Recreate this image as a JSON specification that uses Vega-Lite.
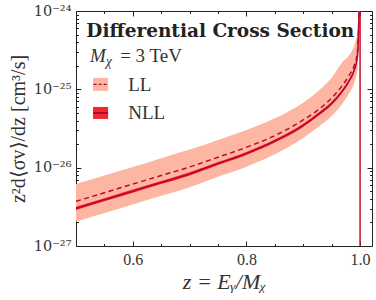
{
  "$schema": "https://vega.github.io/schema/vega-lite/v6.json",
  "width": 296,
  "height": 235,
  "autosize": {"type": "none"},
  "padding": {"left": 76, "top": 11, "right": 4, "bottom": 54},
  "config": {
    "view": {"stroke": "#222", "strokeWidth": 1},
    "font": "Liberation Serif",
    "axis": {"domain": false, "grid": false, "tickColor": "#222", "labelColor": "#333", "titleColor": "#333", "labelFont": "Liberation Serif", "titleFont": "Liberation Serif", "titleFontWeight": "normal", "labelFontSize": 16}
  },
  "data": {"values": [
    {"z": 0.5, "ll": 3.72e-27, "ll_lo": 2.04e-27, "ll_hi": 6.17e-27, "nll": 3.02e-27, "nll_lo": 2.88e-27, "nll_hi": 3.16e-27},
    {"z": 0.55, "ll": 4.79e-27, "ll_lo": 2.63e-27, "ll_hi": 7.94e-27, "nll": 3.89e-27, "nll_lo": 3.72e-27, "nll_hi": 4.07e-27},
    {"z": 0.6, "ll": 6.17e-27, "ll_lo": 3.39e-27, "ll_hi": 1.02e-26, "nll": 5.01e-27, "nll_lo": 4.79e-27, "nll_hi": 5.25e-27},
    {"z": 0.65, "ll": 7.94e-27, "ll_lo": 4.37e-27, "ll_hi": 1.32e-26, "nll": 6.46e-27, "nll_lo": 6.17e-27, "nll_hi": 6.76e-27},
    {"z": 0.7, "ll": 1.02e-26, "ll_lo": 5.62e-27, "ll_hi": 1.70e-26, "nll": 8.32e-27, "nll_lo": 7.94e-27, "nll_hi": 8.71e-27},
    {"z": 0.75, "ll": 1.36e-26, "ll_lo": 7.65e-27, "ll_hi": 2.26e-26, "nll": 1.13e-26, "nll_lo": 1.08e-26, "nll_hi": 1.18e-26},
    {"z": 0.8, "ll": 1.82e-26, "ll_lo": 1.03e-26, "ll_hi": 3.02e-26, "nll": 1.52e-26, "nll_lo": 1.45e-26, "nll_hi": 1.59e-26},
    {"z": 0.85, "ll": 2.57e-26, "ll_lo": 1.48e-26, "ll_hi": 4.27e-26, "nll": 2.19e-26, "nll_lo": 2.09e-26, "nll_hi": 2.29e-26},
    {"z": 0.9, "ll": 4.07e-26, "ll_lo": 2.40e-26, "ll_hi": 6.76e-26, "nll": 3.47e-26, "nll_lo": 3.31e-26, "nll_hi": 3.63e-26},
    {"z": 0.93, "ll": 5.75e-26, "ll_lo": 3.47e-26, "ll_hi": 1.00e-25, "nll": 5.01e-26, "nll_lo": 4.79e-26, "nll_hi": 5.25e-26},
    {"z": 0.95, "ll": 7.76e-26, "ll_lo": 4.57e-26, "ll_hi": 1.41e-25, "nll": 6.61e-26, "nll_lo": 6.31e-26, "nll_hi": 6.92e-26},
    {"z": 0.97, "ll": 1.15e-25, "ll_lo": 6.76e-26, "ll_hi": 2.29e-25, "nll": 9.77e-26, "nll_lo": 9.33e-26, "nll_hi": 1.023e-25},
    {"z": 0.98, "ll": 1.48e-25, "ll_lo": 8.71e-26, "ll_hi": 2.69e-25, "nll": 1.26e-25, "nll_lo": 1.20e-25, "nll_hi": 1.32e-25},
    {"z": 0.99, "ll": 2.04e-25, "ll_lo": 1.23e-25, "ll_hi": 3.72e-25, "nll": 1.78e-25, "nll_lo": 1.70e-25, "nll_hi": 1.86e-25},
    {"z": 0.995, "ll": 2.88e-25, "ll_lo": 1.74e-25, "ll_hi": 5.25e-25, "nll": 2.51e-25, "nll_lo": 2.40e-25, "nll_hi": 2.63e-25},
    {"z": 0.998, "ll": 8.91e-25, "ll_lo": 5.01e-25, "ll_hi": 1.58e-24, "nll": 7.59e-25, "nll_lo": 7.24e-25, "nll_hi": 7.94e-25},
    {"z": 0.9995, "ll": 3.16e-24, "ll_lo": 1.58e-24, "ll_hi": 5.01e-24, "nll": 2.51e-24, "nll_lo": 2.40e-24, "nll_hi": 2.63e-24}
  ]},
  "layer": [
    {
      "mark": {"type": "area", "color": "#fcb6a1", "clip": true, "interpolate": "monotone"},
      "encoding": {
        "x": {"field": "z", "type": "quantitative", "scale": {"domain": [0.5, 1.021], "nice": false, "zero": false},
          "axis": {"orient": "bottom", "values": [0.6, 0.8, 1.0], "format": ".1f", "tickSize": -5, "labelPadding": 10, "title": "z = Eᵧ/Mᵪ", "titleFontSize": 22, "titleFontStyle": "italic", "titlePadding": 4}},
        "y": {"field": "ll_lo", "type": "quantitative", "scale": {"type": "log", "domain": [1e-27, 1e-24], "nice": false},
          "axis": {"orient": "left", "values": [1e-27, 1e-26, 1e-25, 1e-24], "tickSize": -5, "labelPadding": 10, "labelFont": "DejaVu Serif", "labelFontSize": 14.5,
            "labelExpr": "datum.value < 5e-27 ? '10⁻²⁷' : datum.value < 5e-26 ? '10⁻²⁶' : datum.value < 5e-25 ? '10⁻²⁵' : '10⁻²⁴'",
            "title": "z²d⟨σv⟩/dz [cm³/s]", "titleFontSize": 20, "titlePadding": 5}},
        "y2": {"field": "ll_hi"}
      }
    },
    {
      "mark": {"type": "area", "color": "#f2272d", "clip": true, "interpolate": "monotone"},
      "encoding": {
        "x": {"field": "z", "type": "quantitative", "axis": {"orient": "bottom", "values": [0.55, 0.65, 0.7, 0.75, 0.85, 0.9, 0.95], "labels": false, "tickSize": -2.5, "title": null}},
        "y": {"field": "nll_lo", "type": "quantitative", "scale": {"type": "log"},
          "axis": {"orient": "left", "values": [2e-27, 3e-27, 4e-27, 5e-27, 6e-27, 7e-27, 8e-27, 9e-27, 2e-26, 3e-26, 4e-26, 5e-26, 6e-26, 7e-26, 8e-26, 9e-26, 2e-25, 3e-25, 4e-25, 5e-25, 6e-25, 7e-25, 8e-25, 9e-25], "labels": false, "tickSize": -2.5, "title": null}},
        "y2": {"field": "nll_hi"}
      }
    },
    {
      "mark": {"type": "line", "color": "#be0630", "strokeWidth": 1.5, "strokeDash": [5, 3.5], "clip": true, "interpolate": "monotone"},
      "encoding": {
        "x": {"field": "z", "type": "quantitative", "axis": {"orient": "top", "values": [0.6, 0.8, 1.0], "labels": false, "tickSize": -5, "title": null}},
        "y": {"field": "ll", "type": "quantitative", "scale": {"type": "log"},
          "axis": {"orient": "right", "values": [1e-27, 1e-26, 1e-25, 1e-24], "labels": false, "tickSize": -5, "title": null}}
      }
    },
    {
      "mark": {"type": "line", "color": "#be0630", "strokeWidth": 1.6, "clip": true, "interpolate": "monotone"},
      "encoding": {
        "x": {"field": "z", "type": "quantitative", "axis": {"orient": "top", "values": [0.55, 0.65, 0.7, 0.75, 0.85, 0.9, 0.95], "labels": false, "tickSize": -2.5, "title": null}},
        "y": {"field": "nll", "type": "quantitative", "scale": {"type": "log"},
          "axis": {"orient": "right", "values": [2e-27, 3e-27, 4e-27, 5e-27, 6e-27, 7e-27, 8e-27, 9e-27, 2e-26, 3e-26, 4e-26, 5e-26, 6e-26, 7e-26, 8e-26, 9e-26, 2e-25, 3e-25, 4e-25, 5e-25, 6e-25, 7e-25, 8e-25, 9e-25], "labels": false, "tickSize": -2.5, "title": null}}
      }
    },
    {
      "data": {"values": [{}]},
      "mark": {"type": "rule", "color": "#c8102e", "strokeWidth": 1.5},
      "encoding": {"x": {"datum": 1.0, "type": "quantitative", "axis": null}}
    },
    {
      "data": {"values": [{}]},
      "mark": {"type": "text", "text": "Differential Cross Section", "font": "DejaVu Serif", "fontWeight": "bold", "fontSize": 18.5, "align": "center", "baseline": "alphabetic", "color": "#222"},
      "encoding": {"x": {"datum": 0.754, "type": "quantitative", "axis": null}, "y": {"datum": 4.67e-25, "type": "quantitative", "scale": {"type": "log"}, "axis": null}}
    },
    {
      "data": {"values": [{}]},
      "mark": {"type": "text", "text": "M", "fontStyle": "italic", "fontSize": 19, "align": "left", "baseline": "alphabetic", "color": "#333"},
      "encoding": {"x": {"datum": 0.5247, "type": "quantitative", "axis": null}, "y": {"datum": 2.24e-25, "type": "quantitative", "scale": {"type": "log"}, "axis": null}}
    },
    {
      "data": {"values": [{}]},
      "mark": {"type": "text", "text": "χ", "fontStyle": "italic", "fontSize": 14, "align": "left", "baseline": "alphabetic", "color": "#333"},
      "encoding": {"x": {"datum": 0.5525, "type": "quantitative", "axis": null}, "y": {"datum": 2.0e-25, "type": "quantitative", "scale": {"type": "log"}, "axis": null}}
    },
    {
      "data": {"values": [{}]},
      "mark": {"type": "text", "text": "= 3 TeV", "fontSize": 19, "align": "left", "baseline": "alphabetic", "color": "#333"},
      "encoding": {"x": {"datum": 0.5777, "type": "quantitative", "axis": null}, "y": {"datum": 2.24e-25, "type": "quantitative", "scale": {"type": "log"}, "axis": null}}
    },
    {
      "data": {"values": [{}]},
      "mark": {"type": "rect", "color": "#fcb6a1"},
      "encoding": {"x": {"datum": 0.530, "type": "quantitative", "axis": null}, "x2": {"datum": 0.5565}, "y": {"datum": 9.55e-26, "type": "quantitative", "scale": {"type": "log"}, "axis": null}, "y2": {"datum": 1.40e-25}}
    },
    {
      "data": {"values": [{}]},
      "mark": {"type": "rule", "color": "#be0630", "strokeWidth": 1.3, "strokeDash": [3, 2]},
      "encoding": {"x": {"datum": 0.531, "type": "quantitative", "axis": null}, "x2": {"datum": 0.5555}, "y": {"datum": 1.156e-25, "type": "quantitative", "scale": {"type": "log"}, "axis": null}}
    },
    {
      "data": {"values": [{}]},
      "mark": {"type": "rect", "color": "#f2272d"},
      "encoding": {"x": {"datum": 0.530, "type": "quantitative", "axis": null}, "x2": {"datum": 0.5565}, "y": {"datum": 4.19e-26, "type": "quantitative", "scale": {"type": "log"}, "axis": null}, "y2": {"datum": 5.96e-26}}
    },
    {
      "data": {"values": [{}]},
      "mark": {"type": "rule", "color": "#9e0030", "strokeWidth": 1.5},
      "encoding": {"x": {"datum": 0.530, "type": "quantitative", "axis": null}, "x2": {"datum": 0.5565}, "y": {"datum": 5.0e-26, "type": "quantitative", "scale": {"type": "log"}, "axis": null}}
    },
    {
      "data": {"values": [{}]},
      "mark": {"type": "text", "text": "LL", "fontSize": 19, "align": "left", "baseline": "alphabetic", "color": "#333"},
      "encoding": {"x": {"datum": 0.5919, "type": "quantitative", "axis": null}, "y": {"datum": 9.55e-26, "type": "quantitative", "scale": {"type": "log"}, "axis": null}}
    },
    {
      "data": {"values": [{}]},
      "mark": {"type": "text", "text": "NLL", "fontSize": 19, "align": "left", "baseline": "alphabetic", "color": "#333"},
      "encoding": {"x": {"datum": 0.5919, "type": "quantitative", "axis": null}, "y": {"datum": 4.19e-26, "type": "quantitative", "scale": {"type": "log"}, "axis": null}}
    }
  ],
  "resolve": {"axis": {"x": "independent", "y": "independent"}}
}
